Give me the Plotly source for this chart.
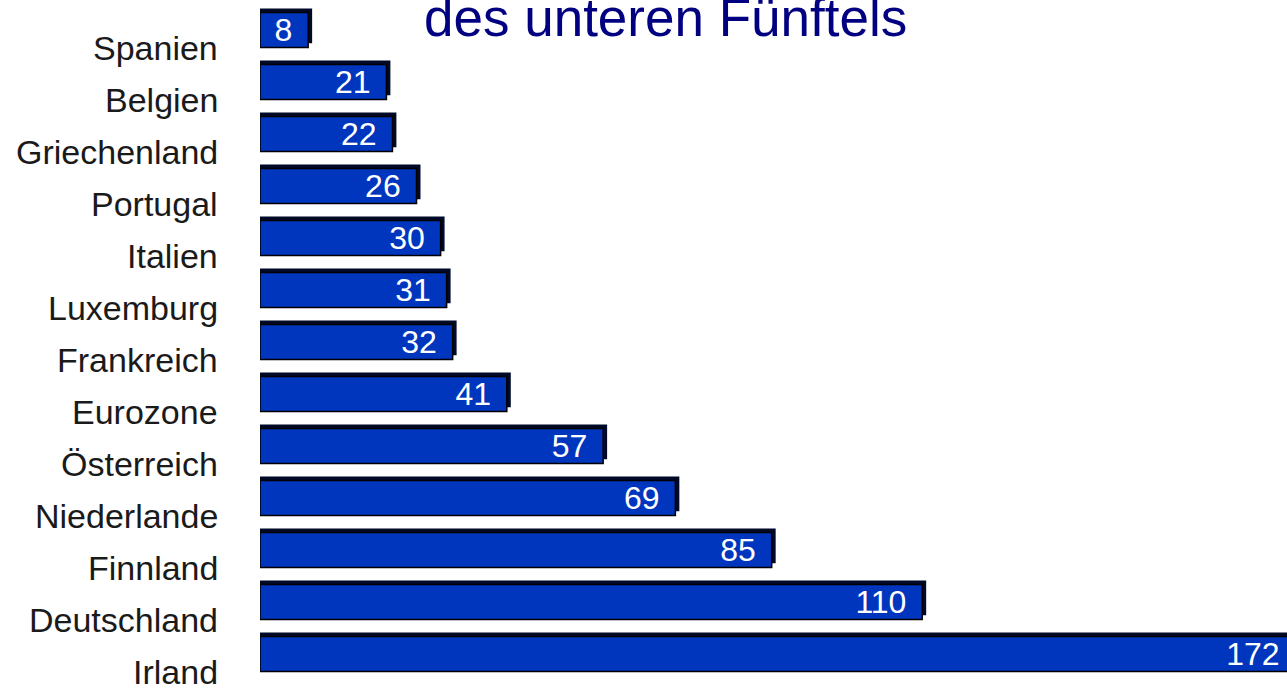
import plotly.graph_objects as go

countries = ["Spanien", "Belgien", "Griechenland", "Portugal", "Italien", "Luxemburg",
             "Frankreich", "Eurozone", "Österreich", "Niederlande", "Finnland",
             "Deutschland", "Irland"]
values = [8, 21, 22, 26, 30, 31, 32, 41, 57, 69, 85, 110, 172]
title_text = "des unteren Fünftels"

FACE = "#0036BE"
SHADOW = "#000A28"
shadow_dx = 0.66   # ~4 px in x units
bar_w = 0.67
FONT = "Liberation Sans, Arial, sans-serif"

fig = go.Figure()
# shadow (offset up and right)
fig.add_trace(go.Bar(
    y=countries, x=[v + shadow_dx for v in values], orientation="h",
    width=bar_w, offset=-bar_w / 2 - 0.08,
    marker=dict(color=SHADOW, line=dict(width=0)),
    hoverinfo="skip", showlegend=False,
))
# face
fig.add_trace(go.Bar(
    y=countries, x=values, orientation="h",
    width=bar_w, offset=-bar_w / 2,
    marker=dict(color=FACE, line=dict(color="#000000", width=1.5)),
    text=[str(v) for v in values], textposition="inside", insidetextanchor="end",
    texttemplate="%{text}\u2009\u2009", textangle=0, constraintext="none",
    textfont=dict(family=FONT, size=32, color="white"),
    showlegend=False,
))

for c in countries:
    fig.add_annotation(
        x=0, xref="paper", y=c, yref="y", text=c, showarrow=False,
        xanchor="right", yanchor="middle", xshift=-40, yshift=-18,
        font=dict(family=FONT, size=34, color="#1a1a1a"),
    )

fig.add_annotation(
    x=(665 - 260) / 1040, xref="paper", y=1, yref="paper", text=title_text, showarrow=False,
    xanchor="center", yanchor="top", yshift=14,
    font=dict(family=FONT, size=53, color="#000080"),
)

# plot area extends slightly past the window's right edge (Irland bar is cut off there)
fig.update_layout(
    width=1300, height=688,
    margin=dict(l=260, r=0, t=0, b=0),
    paper_bgcolor="white", plot_bgcolor="white",
    barmode="overlay",
    xaxis=dict(range=[0, 1040 / 6.02], visible=False),
    yaxis=dict(categoryorder="array", categoryarray=countries,
               range=[12.654, -0.577], showticklabels=False, showgrid=False,
               zeroline=False, showline=False, ticks=""),
)

fig.write_html(
    "out.html",
    config={"displayModeBar": False},
    post_script="document.body.style.margin='0px';document.body.style.overflow='hidden';",
)
